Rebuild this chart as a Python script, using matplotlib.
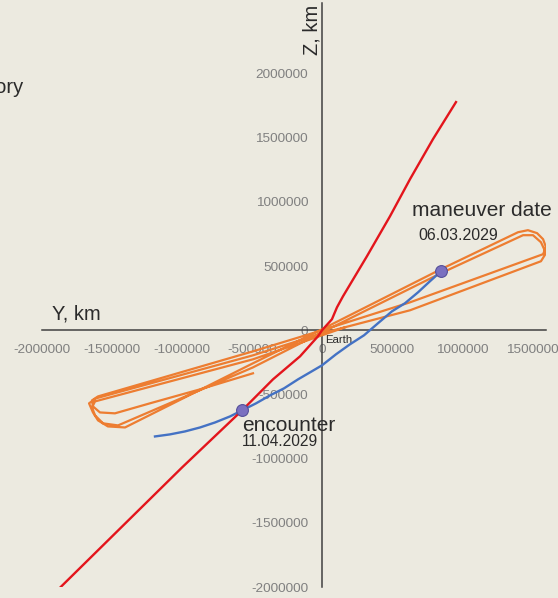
import matplotlib
matplotlib.use("Agg")
import matplotlib.pyplot as plt
from matplotlib.ticker import FuncFormatter, MultipleLocator

plt.rcParams["font.family"] = ["Liberation Sans", "DejaVu Sans"]
plt.rcParams["axes.unicode_minus"] = False

# orbit without maneuver (thousand km), Y / Z components
orbit_y = [-493, -871, -1229, -1479, -1586, -1636, -1643, -1600, -493, 0,
           629, 1579, 1600, 1579, 1536, 1471, 1400, 850, 0, -493,
           -1407, -1529, -1600, -1636, -1664, -1614, -493, 0, 629, 1564,
           1600, 1564, 1507, 1436, 850, 0, -493, -1457, -1564, -1621,
           -1643, -1621, -493, 0, 164]
orbit_z = [-335, -460, -569, -647, -640, -593, -546, -515, -164, 0,
           218, 593, 647, 710, 757, 780, 764, 476, 8, -257,
           -757, -749, -702, -640, -569, -530, -195, -23, 156, 538,
           601, 686, 741, 741, 445, -16, -289, -741, -725, -663,
           -601, -554, -226, -39, 23]

# transfer arc after the maneuver
transfer_y = [-1193, -1086, -979, -871, -764, -657, -571, -471, -371, -271, -171,
              -86, 0, 100, 200, 300, 400, 500, 593, 686, 771, 850]
transfer_z = [-827, -811, -788, -757, -718, -671, -624, -569, -507, -452, -382,
              -328, -273, -187, -109, -39, 55, 148, 211, 296, 382, 460]

# approach line
approach_y = [-1871, -1000, -571, -350, -157, -29, 0,
              71, 107, 150, 321, 486, 629, 793, 957]
approach_z = [-2005, -1069, -624, -382, -203, -47, 0,
              86, 179, 265, 577, 889, 1178, 1490, 1778]

maneuver = (850, 460)
encounter = (-571, -624)
maneuver_date = "06.03.2029"
encounter_date = "11.04.2029"

km = lambda seq: [v * 1000 for v in seq]

bg = "#eceae0"
fig = plt.figure(figsize=(5.58, 5.98), dpi=100, facecolor=bg)
ax = fig.add_axes([42 / 558, 11 / 598, 504 / 558, 584 / 598], facecolor=bg)

ax.plot(km(orbit_y), km(orbit_z), color="#ed7d31", lw=1.6, zorder=3)
ax.plot(km(transfer_y), km(transfer_z), color="#4472c4", lw=1.7, zorder=4)
ax.plot(km(approach_y), km(approach_z), color="#e3151c", lw=1.7, zorder=5)
for pt in (maneuver, encounter):
    ax.plot(*km(pt), "o", ms=8.5, mfc="#7a70c0", mec="#55509a", mew=0.8, zorder=6)

ax.set_xlim(-2000000, 1600000)
ax.set_ylim(-2000000, 2550000)
for side in ("top", "right"):
    ax.spines[side].set_visible(False)
for side in ("left", "bottom"):
    ax.spines[side].set_position(("data", 0))
    ax.spines[side].set_color("#404040")
    ax.spines[side].set_linewidth(1.1)
    ax.spines[side].set_zorder(1)

ax.xaxis.set_major_locator(MultipleLocator(500000))
ax.yaxis.set_major_locator(MultipleLocator(500000))
fmt = FuncFormatter(lambda v, p: f"{v:.0f}" if abs(v) <= 2000000 else "")
ax.xaxis.set_major_formatter(fmt)
ax.yaxis.set_major_formatter(fmt)
ax.tick_params(length=0, pad=10, labelsize=9.7, labelcolor="#808080")
ax.set_axisbelow(True)

txt = "#2b2b2b"
mpt, ept = km(maneuver), km(encounter)
ax.annotate("maneuver date", mpt, xytext=(-29, 55), textcoords="offset pixels",
            fontsize=15, color=txt, va="baseline")
ax.annotate(maneuver_date, mpt, xytext=(-23, 31), textcoords="offset pixels",
            fontsize=11.5, color=txt, va="baseline")
ax.annotate("encounter", ept, xytext=(0, -21), textcoords="offset pixels",
            fontsize=15, color=txt, va="baseline")
ax.annotate(encounter_date, ept, xytext=(0, -36), textcoords="offset pixels",
            fontsize=11.2, color=txt, va="baseline")
ax.annotate("Earth", (0, 0), xytext=(3, -13), textcoords="offset pixels",
            fontsize=8.2, color=txt, va="baseline")

fig.text(52 / 558, 1 - 319 / 598, "Y, km", fontsize=14.5, color=txt, va="baseline")
fig.text(318 / 558, 1 - 55 / 598, "Z, km", fontsize=14.5, color=txt, rotation=90,
         rotation_mode="anchor", ha="left", va="baseline")
fig.text(24 / 558, 1 - 93 / 598, "Trajectory", fontsize=14.5, color=txt,
         ha="right", va="baseline")

fig.savefig("out.png", dpi=100, facecolor=bg)
